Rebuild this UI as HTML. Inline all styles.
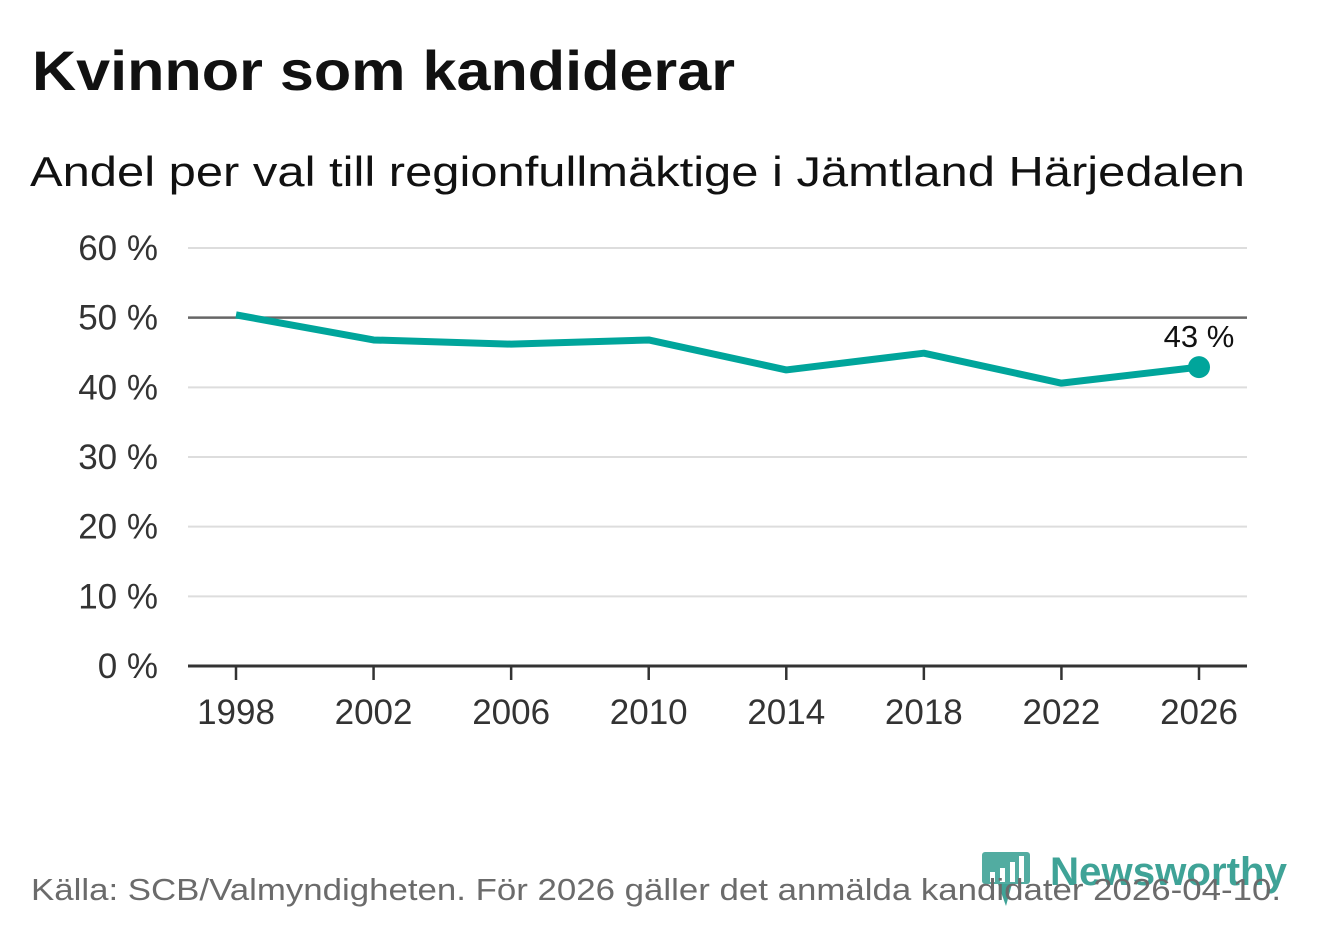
<!DOCTYPE html>
<html><head><meta charset="utf-8"><style>
body{margin:0;background:#fff;width:1322px;height:939px;overflow:hidden;font-family:"Liberation Sans","DejaVu Sans",sans-serif;}
</style></head><body>
<svg width="1322" height="939" style="position:absolute;left:0;top:0">
<text x="32" y="90" font-size="56" font-weight="bold" fill="#111" textLength="703" lengthAdjust="spacingAndGlyphs">Kvinnor som kandiderar</text>
<text x="30" y="186" font-size="42" fill="#111" textLength="1215" lengthAdjust="spacingAndGlyphs">Andel per val till regionfullmäktige i Jämtland Härjedalen</text>
<g id="grid"></g>
<g id="xax"></g>
<g id="series"></g>
<g>
<rect x="982" y="852" width="48" height="32" rx="3" fill="#3fa397" opacity="0.9"/>
<path d="M998 884 L1012 884 L1006 906 Z" fill="#3fa397"/>
<rect x="990" y="872" width="5" height="10" fill="#fff"/><rect x="1000" y="868" width="5" height="14" fill="#fff"/><rect x="1010" y="862" width="5" height="20" fill="#fff"/><rect x="1019" y="856" width="5" height="26" fill="#fff"/>
<text x="1050" y="885" font-size="40" font-weight="bold" fill="#3fa397" textLength="237" lengthAdjust="spacingAndGlyphs">Newsworthy</text>
</g>
<text x="31" y="900" font-size="31" fill="#6b6b6b" textLength="1250" lengthAdjust="spacingAndGlyphs">Källa: SCB/Valmyndigheten. För 2026 gäller det anmälda kandidater 2026-04-10.</text>
</svg>
<script>
const years=[1998,2002,2006,2010,2014,2018,2022,2026];
const values=[50.4,46.8,46.2,46.8,42.5,44.9,40.6,42.9];
const yTicks=[0,10,20,30,40,50,60];
const NS="http://www.w3.org/2000/svg";
const x=v=>236+(v-1998)*(1199-236)/28;
const y=v=>666-v*(666-248)/60;
function mk(t,a,p){const e=document.createElementNS(NS,t);for(const k in a)e.setAttribute(k,a[k]);p.appendChild(e);return e;}
const g=document.getElementById('grid');
yTicks.forEach(t=>{
 const l=mk('line',{x1:188,x2:1247,y1:y(t),y2:y(t),stroke:t==50?'#666':(t==0?'#333':'#ddd'),'stroke-width':t==0?3:(t==50?2.5:2)},g);
 
 
 const tx=mk('text',{x:158,y:y(t)+12,'text-anchor':'end','font-size':35,fill:'#333'},g);
 tx.textContent=t+' %';
 
 
});
const xa=document.getElementById('xax');
years.forEach(yr=>{
 const tk=mk('line',{x1:x(yr),x2:x(yr),y1:666,y2:680,stroke:'#333','stroke-width':2.5},xa);
 
 
 const tx=mk('text',{x:x(yr),y:724,'text-anchor':'middle','font-size':35,fill:'#333'},xa);
 tx.textContent=yr;
 
 
});
const s=document.getElementById('series');
const pl=mk('polyline',{points:years.map((yr,i)=>x(yr)+','+y(values[i])).join(' '),fill:'none',stroke:'#00a59b','stroke-width':7,'stroke-linejoin':'round'},s);


const n=years.length-1;
const dot=mk('circle',{cx:x(years[n]),cy:y(values[n]),r:11,fill:'#00a59b'},s);


const lb=mk('text',{x:x(years[n]),y:y(values[n])-20,'text-anchor':'middle','font-size':31,fill:'#111',stroke:'#fff','stroke-width':6,'paint-order':'stroke'},s);
lb.textContent=Math.round(values[n])+' %';


</script>
</body></html>
